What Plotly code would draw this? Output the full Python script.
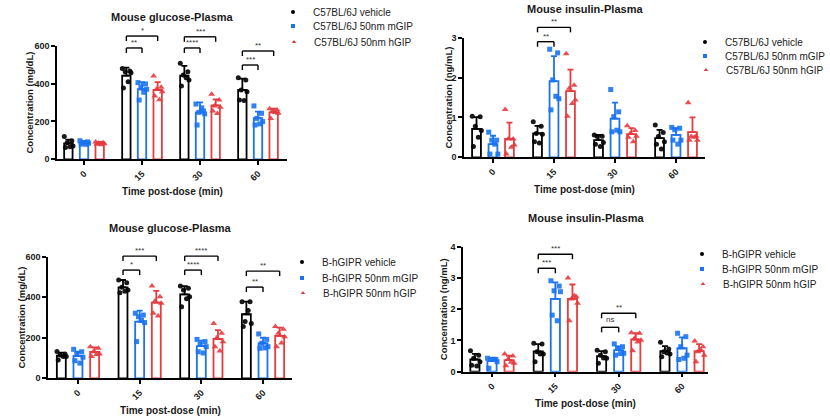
import plotly.graph_objects as go

W, H = 830, 419
FONT = "Liberation Sans, Arial, sans-serif"
TIMES = ["0", "15", "30", "60"]

# ---------------- Panel 1: C57BL/6J glucose ----------------
c57_names = ["C57BL/6J vehicle", "C57BL/6J 50nm mGIP", "C57BL/6J 50nm hGIP"]
glu_c57_veh_mean = [84, 442, 442, 366]
glu_c57_veh_sd = [20, 42, 51, 60]
glu_c57_mgip_mean = [87, 370, 248, 218]
glu_c57_mgip_sd = [10, 38, 53, 34]
glu_c57_hgip_mean = [84, 366, 285, 248]
glu_c57_hgip_sd = [8, 42, 32, 19]
glu_c57_veh_pts = [[120, 98, 88, 70, 62, 66], [480, 466, 463, 457, 377, 409],
                   [507, 463, 445, 419, 387, 431], [431, 419, 366, 357, 313, 310]]
glu_c57_mgip_pts = [[98, 92, 88, 85, 80, 79], [405, 398, 380, 370, 313, 354],
                    [292, 255, 248, 240, 181, 272], [282, 243, 216, 199, 181, 187]]
glu_c57_hgip_pts = [[92, 88, 85, 82, 80, 77], [440, 380, 370, 357, 334, 315],
                    [343, 313, 282, 275, 255, 242], [267, 260, 255, 243, 216, 247]]
glu_c57_sig = [(1, 1, 588, "**"), (1, 2, 651, "*"), (2, 1, 588, "****"),
               (2, 2, 647, "***"), (3, 1, 498, "***"), (3, 2, 572, "**")]

# ---------------- Panel 2: C57BL/6J insulin ----------------
ins_c57_veh_mean = [0.71, 0.60, 0.43, 0.48]
ins_c57_veh_sd = [0.30, 0.19, 0.13, 0.21]
ins_c57_mgip_mean = [0.33, 1.91, 0.97, 0.56]
ins_c57_mgip_sd = [0.21, 0.63, 0.40, 0.17]
ins_c57_hgip_mean = [0.46, 1.66, 0.58, 0.63]
ins_c57_hgip_sd = [0.41, 0.54, 0.15, 0.37]
ins_c57_veh_pts = [[1.03, 1.02, 0.78, 0.67, 0.27, 0.50], [0.89, 0.78, 0.60, 0.58, 0.39, 0.36],
                   [0.56, 0.53, 0.52, 0.37, 0.33, 0.27], [0.81, 0.62, 0.52, 0.39, 0.33, 0.21]]
ins_c57_mgip_pts = [[0.63, 0.43, 0.43, 0.08, 0.08, 0.33], [2.71, 2.62, 1.94, 1.47, 1.19, 1.53],
                    [1.70, 1.14, 1.02, 0.64, 0.64, 0.68], [0.75, 0.73, 0.69, 0.43, 0.43, 0.33]]
ins_c57_hgip_pts = [[1.20, 0.46, 0.46, 0.31, 0.08, 0.25], [2.60, 1.81, 1.73, 1.44, 1.03, 1.35],
                    [0.79, 0.67, 0.60, 0.53, 0.50, 0.39], [1.37, 0.53, 0.52, 0.43, 0.43, 0.50]]
ins_c57_sig = [(1, 1, 2.90, "**"), (1, 2, 3.26, "**")]

# ---------------- Panel 3: B-hGIPR glucose ----------------
hgipr_names = ["B-hGIPR vehicle", "B-hGIPR 50nm mGIP", "B-hGIPR 50nm hGIP"]
glu_hg_veh_mean = [112, 449, 414, 316]
glu_hg_veh_sd = [15, 36, 41, 62]
glu_hg_mgip_mean = [110, 280, 159, 173]
glu_hg_mgip_sd = [21, 54, 27, 27]
glu_hg_hgip_mean = [130, 373, 194, 209]
glu_hg_hgip_sd = [23, 58, 44, 41]
glu_hg_veh_pts = [[132, 120, 115, 107, 90, 108], [485, 472, 449, 436, 422, 430],
                  [455, 444, 436, 403, 353, 393], [378, 378, 280, 271, 255, 334]]
glu_hg_mgip_pts = [[143, 131, 120, 104, 87, 75], [321, 312, 304, 275, 181, 287],
                   [192, 181, 169, 156, 131, 125], [219, 192, 173, 156, 148, 150]]
glu_hg_hgip_pts = [[156, 148, 131, 120, 107, 118], [455, 403, 381, 370, 321, 308],
                   [271, 222, 200, 180, 156, 135], [255, 242, 222, 205, 156, 174]]
glu_hg_sig = [(1, 1, 534, "*"), (1, 2, 603, "***"), (2, 1, 534, "****"),
              (2, 2, 603, "****"), (3, 1, 450, "**"), (3, 2, 529, "**")]

# ---------------- Panel 4: B-hGIPR insulin ----------------
ins_hg_veh_mean = [0.39, 0.65, 0.50, 0.66]
ins_hg_veh_sd = [0.18, 0.23, 0.16, 0.16]
ins_hg_mgip_mean = [0.34, 2.33, 0.69, 0.75]
ins_hg_mgip_sd = [0.10, 0.53, 0.12, 0.35]
ins_hg_hgip_mean = [0.37, 2.33, 1.03, 0.66]
ins_hg_hgip_sd = [0.14, 0.46, 0.20, 0.22]
ins_hg_veh_pts = [[0.67, 0.53, 0.43, 0.32, 0.21, 0.18], [0.91, 0.89, 0.64, 0.57, 0.32, 0.57],
                  [0.69, 0.64, 0.53, 0.43, 0.27, 0.44], [0.94, 0.73, 0.64, 0.57, 0.48, 0.60]]
ins_hg_mgip_pts = [[0.43, 0.39, 0.39, 0.32, 0.11, 0.40], [2.91, 2.74, 2.59, 2.56, 1.81, 1.63],
                   [0.89, 0.80, 0.75, 0.59, 0.53, 0.58], [1.23, 1.12, 0.80, 0.53, 0.39, 0.43]]
ins_hg_hgip_pts = [[0.57, 0.50, 0.39, 0.27, 0.19, 0.30], [3.00, 2.40, 2.33, 2.19, 1.63, 2.43],
                   [1.25, 1.23, 1.07, 1.01, 0.67, 0.95], [0.98, 0.80, 0.64, 0.53, 0.32, 0.69]]
ins_hg_sig = [(1, 1, 3.31, "***"), (1, 2, 3.76, "***"), (2, 1, 1.42, "ns"), (2, 2, 1.87, "**")]

# ---------------- styles / layout geometry ----------------
COLORS = ["#000000", "#1a73f0", "#e63b3f"]
SYMS = ["circle", "square", "triangle-up"]
MSIZE = [5, 5, 6]
OFFS = [-0.27, 0.0, 0.27]
JIT = [-0.07, 0.06, -0.02, 0.08, -0.05, 0.03]
BAR_W = 0.145

panels = [
    dict(title="Mouse glucose-Plasma", ytitle="Concentration (mg/dL)", names=c57_names,
         mean=[glu_c57_veh_mean, glu_c57_mgip_mean, glu_c57_hgip_mean],
         sd=[glu_c57_veh_sd, glu_c57_mgip_sd, glu_c57_hgip_sd],
         pts=[glu_c57_veh_pts, glu_c57_mgip_pts, glu_c57_hgip_pts], sig=glu_c57_sig,
         xpx=(57, 287), ypx=(45.7, 159.3), xr=(-0.466, 3.5), ymax=600, dtick=200,
         ytshift=-28, leg=[(313, 12), (313, 26), (314, 42)]),
    dict(title="Mouse insulin-Plasma", ytitle="Concentration (ng/mL)", names=c57_names,
         mean=[ins_c57_veh_mean, ins_c57_mgip_mean, ins_c57_hgip_mean],
         sd=[ins_c57_veh_sd, ins_c57_mgip_sd, ins_c57_hgip_sd],
         pts=[ins_c57_veh_pts, ins_c57_mgip_pts, ins_c57_hgip_pts], sig=ins_c57_sig,
         xpx=(464, 705), ypx=(37.7, 157.3), xr=(-0.475, 3.475), ymax=3, dtick=1,
         ytshift=-16, leg=[(725, 42), (725, 56), (726, 70)]),
    dict(title="Mouse glucose-Plasma", ytitle="Concentration (mg/dL)", names=hgipr_names,
         mean=[glu_hg_veh_mean, glu_hg_mgip_mean, glu_hg_hgip_mean],
         sd=[glu_hg_veh_sd, glu_hg_mgip_sd, glu_hg_hgip_sd],
         pts=[glu_hg_veh_pts, glu_hg_mgip_pts, glu_hg_hgip_pts], sig=glu_hg_sig,
         xpx=(48, 292), ypx=(256.7, 378.3), xr=(-0.486, 3.47), ymax=600, dtick=200,
         ytshift=-27, leg=[(322, 262), (322, 278), (323, 293)]),
    dict(title="Mouse insulin-Plasma", ytitle="Concentration (ng/mL)", names=hgipr_names,
         mean=[ins_hg_veh_mean, ins_hg_mgip_mean, ins_hg_hgip_mean],
         sd=[ins_hg_veh_sd, ins_hg_mgip_sd, ins_hg_hgip_sd],
         pts=[ins_hg_veh_pts, ins_hg_mgip_pts, ins_hg_hgip_pts], sig=ins_hg_sig,
         xpx=(463, 708), ypx=(246.7, 371.7), xr=(-0.458, 3.41), ymax=4, dtick=1,
         ytshift=-20, leg=[(722, 254), (722, 269), (723, 284)]),
]

fig = go.Figure()
shapes, annos = [], []
layout = {}
leg_n = 0
bold = dict(family=FONT, color="#1a1a1a", weight="bold")

for i, P in enumerate(panels):
    sfx = "" if i == 0 else str(i + 1)
    xa, ya = "x" + sfx, "y" + sfx
    xr0, xr1 = P["xr"]
    ymax = P["ymax"]
    hpx = P["ypx"][1] - P["ypx"][0]

    def fx(v):
        return (v - xr0) / (xr1 - xr0)

    def fy(v):
        return v / ymax

    # bars with SD
    for s in range(3):
        fig.add_trace(go.Bar(
            x=[g + OFFS[s] for g in range(len(TIMES))], y=P["mean"][s], width=BAR_W,
            marker=dict(color="white", line=dict(color=COLORS[s], width=1.8)),
            error_y=dict(type="data", symmetric=False, array=P["sd"][s],
                         arrayminus=[0] * len(TIMES), color=COLORS[s], thickness=1.8, width=3),
            xaxis=xa, yaxis=ya, showlegend=False, hoverinfo="skip"))
    # individual points
    for s in range(3):
        px, py = [], []
        for g in range(len(TIMES)):
            for k, v in enumerate(P["pts"][s][g]):
                px.append(g + OFFS[s] + JIT[k])
                py.append(v)
        fig.add_trace(go.Scatter(
            x=px, y=py, mode="markers", cliponaxis=False,
            marker=dict(symbol=SYMS[s], color=COLORS[s], size=MSIZE[s], opacity=0.9,
                        line=dict(width=0)),
            xaxis=xa, yaxis=ya, showlegend=False, hoverinfo="skip"))
    # legend entries (one small legend per entry, for exact row spacing)
    for s in range(3):
        leg_n += 1
        lid = "legend" if leg_n == 1 else "legend%d" % leg_n
        fig.add_trace(go.Scatter(
            x=[None], y=[None], mode="markers", name=P["names"][s],
            marker=dict(symbol=SYMS[s], color=COLORS[s], size=4),
            xaxis=xa, yaxis=ya, legend=lid))
        tx, ty = P["leg"][s]
        layout[lid] = dict(x=(tx - 40) / W, y=1 - ty / H, xanchor="left",
                           yanchor="middle", bgcolor="rgba(0,0,0,0)", borderwidth=0,
                           itemsizing="trace",
                           font=dict(family=FONT, size=10, color="#222222"))

    layout["xaxis" + sfx] = dict(
        domain=[P["xpx"][0] / W, P["xpx"][1] / W], range=[xr0, xr1], anchor=ya,
        tickvals=list(range(len(TIMES))), ticktext=TIMES, tickangle=-45,
        showline=True, linecolor="black", linewidth=1.5, ticks="outside", ticklen=4,
        tickwidth=1.5, tickcolor="black", showgrid=False, zeroline=False, automargin=False,
        tickfont=dict(size=9, **bold), fixedrange=True)
    layout["yaxis" + sfx] = dict(
        domain=[1 - P["ypx"][1] / H, 1 - P["ypx"][0] / H], range=[0, ymax], dtick=P["dtick"],
        anchor=xa, showline=True, linecolor="black", linewidth=1.5, ticks="outside",
        ticklen=4, tickwidth=1.5, tickcolor="black", showgrid=False, zeroline=False,
        automargin=False, tickfont=dict(size=9, **bold), fixedrange=True)

    xd, yd = xa + " domain", ya + " domain"
    # titles
    annos.append(dict(text=P["title"], xref=xd, yref=yd, x=0.5, y=1, yshift=29,
                      xanchor="center", yanchor="middle", showarrow=False,
                      font=dict(size=11, **bold)))
    annos.append(dict(text="Time post-dose (min)", xref=xd, yref=yd, x=0.5, y=0, yshift=-32,
                      xanchor="center", yanchor="middle", showarrow=False,
                      font=dict(size=10, **bold)))
    annos.append(dict(text=P["ytitle"], xref=xd, yref=yd, x=0, y=0.5, xshift=P["ytshift"],
                      xanchor="center", yanchor="middle", textangle=-90, showarrow=False,
                      font=dict(size=9.5, **bold)))
    # significance brackets
    tick = 5 / hpx
    for g, s, lvl, lab in P["sig"]:
        x0, x1 = fx(g + OFFS[0]), fx(g + OFFS[s])
        y = fy(lvl)
        ln = dict(color="black", width=1.4)
        shapes.append(dict(type="line", xref=xd, yref=yd, x0=x0, x1=x1, y0=y, y1=y, line=ln))
        shapes.append(dict(type="line", xref=xd, yref=yd, x0=x0, x1=x0, y0=y, y1=y - tick, line=ln))
        shapes.append(dict(type="line", xref=xd, yref=yd, x0=x1, x1=x1, y0=y, y1=y - tick, line=ln))
        annos.append(dict(text=lab, xref=xd, yref=yd, x=(x0 + x1) / 2, y=y,
                          yshift=-1 if lab != "ns" else 1, xanchor="center", yanchor="bottom",
                          showarrow=False, font=dict(family=FONT, size=8, color="#333333")))

fig.update_layout(
    width=W, height=H, margin=dict(l=0, r=0, t=0, b=0, autoexpand=False), autosize=False,
    paper_bgcolor="white", plot_bgcolor="white", barmode="overlay",
    shapes=shapes, annotations=annos, **layout)

fig.write_html("out.html")
